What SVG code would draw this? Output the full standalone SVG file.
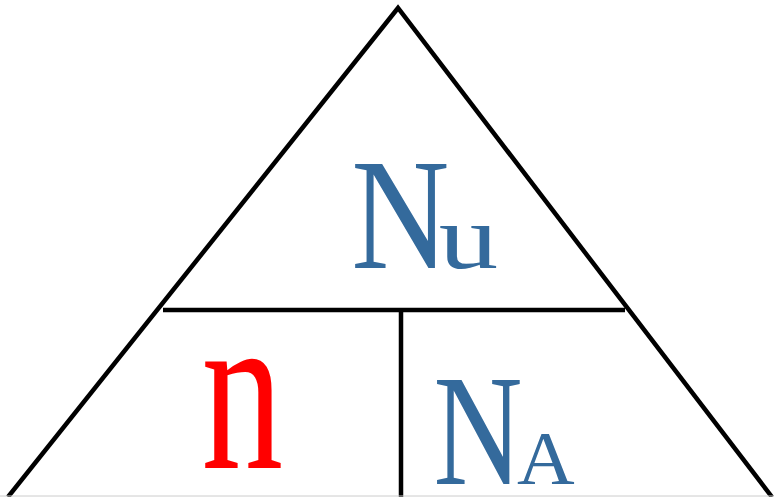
<svg xmlns="http://www.w3.org/2000/svg" width="774" height="497" viewBox="0 0 774 497">
<style>
.ln{stroke:#000;stroke-width:4.5;fill:none}
.t{font-family:"Liberation Serif","Times New Roman",serif}
.b{fill:#346a9c}
.r{fill:#ff0000}
</style>
<rect width="774" height="497" fill="#fff"/>
<g id="connectors">
<polyline class="ln" points="8,497 398,8 772,497"/>
<line class="ln" x1="163" y1="310" x2="625" y2="310"/>
<line class="ln" x1="401" y1="310" x2="401" y2="497"/>
<line x1="0" y1="496" x2="774" y2="496" stroke="#cccccc" stroke-width="1"/>
</g>
<g id="Nu">
<text class="t b" font-size="160" transform="translate(353,268) scale(0.85,1)" x="-2">N</text>
<text class="t b" font-size="90" transform="translate(440,268) scale(1.32,1)" x="-1">u</text>
</g>
<g id="n">
<text class="t r" font-size="230" transform="translate(203,468) scale(0.71,1)" x="-2">n</text>
</g>
<g id="NA">
<text class="t b" font-size="160" transform="translate(435,484) scale(0.77,1)" x="-2">N</text>
<text class="t b" font-size="76" transform="translate(517,484) scale(1.05,1)" x="0">A</text>
</g>
</svg>
